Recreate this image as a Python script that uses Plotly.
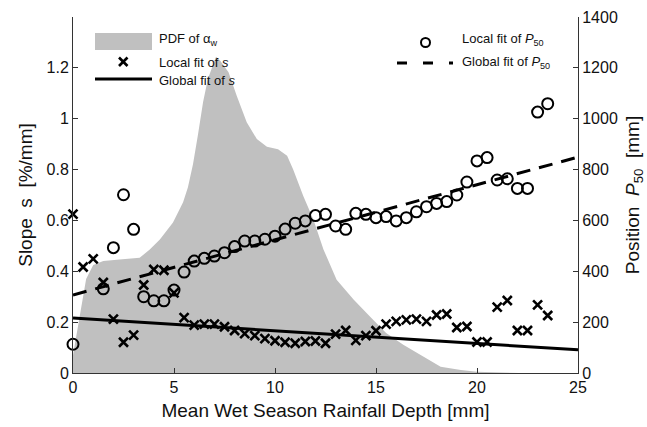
import plotly.graph_objects as go

# ---------------- data ----------------
rain_x = [0, 0.5, 1, 1.5, 2, 2.5, 3, 3.5, 4, 4.5, 5, 5.5, 6, 6.5, 7, 7.5, 8, 8.5, 9, 9.5,
          10, 10.5, 11, 11.5, 12, 12.5, 13, 13.5, 14, 14.5, 15, 15.5, 16, 16.5, 17, 17.5,
          18, 18.5, 19, 19.5, 20, 20.5, 21, 21.5, 22, 22.5, 23, 23.5]
slope_local = [0.625, 0.417, 0.449, 0.356, 0.212, 0.121, 0.149, 0.346, 0.407, 0.404, 0.315,
               0.218, 0.188, 0.192, 0.192, 0.182, 0.167, 0.155, 0.147, 0.135, 0.127, 0.121,
               0.117, 0.124, 0.126, 0.117, 0.153, 0.167, 0.128, 0.147, 0.166, 0.192, 0.203,
               0.209, 0.212, 0.203, 0.228, 0.232, 0.179, 0.183, 0.122, 0.122, 0.259, 0.285,
               0.167, 0.167, 0.268, 0.226]

p50_x = [0, 1.5, 2, 2.5, 3, 3.5, 4, 4.5, 5, 5.5, 6, 6.5, 7, 7.5, 8, 8.5, 9, 9.5, 10, 10.5,
         11, 11.5, 12, 12.5, 13, 13.5, 14, 14.5, 15, 15.5, 16, 16.5, 17, 17.5, 18, 18.5, 19,
         19.5, 20, 20.5, 21, 21.5, 22, 22.5, 23, 23.5]
p50_local = [113, 331, 493, 701, 565, 300, 284, 284, 326, 397, 440, 451, 460, 473, 497, 519,
             519, 526, 538, 566, 589, 598, 619, 624, 578, 565, 628, 624, 611, 615, 598, 611,
             634, 654, 667, 674, 700, 751, 834, 847, 759, 764, 726, 726, 1026, 1059]

fit_x = [0, 25]
slope_global = [0.216, 0.091]
p50_global = [307, 849]

pdf_x = [0, 0.35, 0.65, 1.0, 1.5, 2.3, 3.3, 3.8, 4.3, 4.95, 5.45, 5.69, 5.94, 6.19, 6.44,
         6.68, 6.88, 7.08, 7.28, 7.7, 8.1, 8.6, 9.1, 9.6, 10.15, 10.6, 10.9, 11.4, 11.9,
         12.4, 13.05, 13.9, 14.7, 15.5, 16.35, 17.2, 18.2, 19.2, 20.0, 22.1, 25]
pdf_val = [0.07, 0.24, 0.37, 0.425, 0.44, 0.446, 0.453, 0.486, 0.525, 0.592, 0.671, 0.73,
           0.821, 0.939, 1.066, 1.157, 1.204, 1.244, 1.229, 1.183, 1.091, 0.986, 0.92, 0.89,
           0.88, 0.854, 0.80, 0.696, 0.604, 0.486, 0.367, 0.288, 0.222, 0.157, 0.111, 0.071,
           0.025, 0.012, 0.005, 0.0, 0.0]

x_ticks = [0, 5, 10, 15, 20, 25]
y1_ticks = [0, 0.2, 0.4, 0.6, 0.8, 1.0, 1.2]
y1_text = ["0", "0.2", "0.4", "0.6", "0.8", "1", "1.2"]
y2_ticks = [0, 200, 400, 600, 800, 1000, 1200, 1400]

# ---------------- layout geometry ----------------
W, H = 647, 427
L, R, T, B = 73, 578, 17, 373
FONT = "Liberation Sans, Arial, Helvetica, sans-serif"
GRAY = "#c0c0c0"


def px(x):
    return (x - L) / (R - L)


def py(y):
    return (B - y) / (B - T)


fig = go.Figure()

fig.add_trace(go.Scatter(x=pdf_x, y=pdf_val, mode="lines", fill="tozeroy",
                         fillcolor=GRAY, line=dict(width=0, color=GRAY),
                         hoverinfo="skip", showlegend=False))
fig.add_trace(go.Scatter(x=fit_x, y=slope_global, mode="lines",
                         line=dict(color="black", width=3), showlegend=False))
fig.add_trace(go.Scatter(x=rain_x, y=slope_local, mode="markers", cliponaxis=False,
                         marker=dict(symbol="x-thin", size=9, color="black",
                                     line=dict(width=2.6, color="black")),
                         showlegend=False))
fig.add_trace(go.Scatter(x=fit_x, y=p50_global, mode="lines", yaxis="y2",
                         line=dict(color="black", width=3, dash="14px,9px"),
                         showlegend=False))
fig.add_trace(go.Scatter(x=p50_x, y=p50_local, mode="markers", yaxis="y2", cliponaxis=False,
                         marker=dict(symbol="circle-open", size=11, color="black",
                                     line=dict(width=2, color="black")),
                         showlegend=False))

axis_common = dict(showgrid=False, zeroline=False, showline=True, linecolor="#333333",
                   linewidth=1, ticks="inside", ticklen=5, tickcolor="#333333",
                   tickfont=dict(family=FONT, size=16, color="#111111"))

fig.update_layout(
    width=W, height=H,
    margin=dict(l=L, r=W - R, t=T, b=H - B, autoexpand=False),
    paper_bgcolor="white", plot_bgcolor="white",
    font=dict(family=FONT, color="#111111"),
    showlegend=False,
    xaxis=dict(range=[0, 25], tickvals=x_ticks, automargin=False,
               title=dict(text="Mean Wet Season Rainfall Depth [mm]",
                          font=dict(family=FONT, size=19), standoff=8),
               **axis_common),
    yaxis=dict(range=[0, 1.4], tickvals=y1_ticks, ticktext=y1_text, automargin=False,
               title=dict(text="Slope  s  [%/mm]", font=dict(family=FONT, size=19),
                          standoff=8),
               **axis_common),
    yaxis2=dict(range=[0, 1400], tickvals=y2_ticks, overlaying="y", side="right",
                automargin=False,
                title=dict(text="Position  <i>P</i><sub>50</sub>  [mm]",
                           font=dict(family=FONT, size=19), standoff=8),
                **axis_common),
)

# ---------------- legend (drawn by hand to match the reference) ----------------
shapes = []
shapes.append(dict(type="rect", xref="paper", yref="paper",
                   x0=px(95), x1=px(152), y0=py(50), y1=py(33),
                   fillcolor=GRAY, line=dict(width=0), layer="above"))
# cross glyph
for (a, b, c, d) in [(119, 57.5, 127.5, 66), (119, 66, 127.5, 57.5)]:
    shapes.append(dict(type="line", xref="paper", yref="paper",
                       x0=px(a), y0=py(b), x1=px(c), y1=py(d),
                       line=dict(color="black", width=2.6), layer="above"))
# solid line glyph
shapes.append(dict(type="line", xref="paper", yref="paper",
                   x0=px(95), x1=px(152), y0=py(79), y1=py(79),
                   line=dict(color="black", width=3), layer="above"))
# circle glyph
shapes.append(dict(type="circle", xref="paper", yref="paper",
                   x0=px(421), x1=px(430), y0=py(47), y1=py(38),
                   line=dict(color="black", width=2), layer="above"))
# dashed line glyph
shapes.append(dict(type="line", xref="paper", yref="paper",
                   x0=px(397), x1=px(453), y0=py(63), y1=py(63),
                   line=dict(color="black", width=3, dash="10px,16px"), layer="above"))
fig.update_layout(shapes=shapes)

leg_font = dict(family=FONT, size=13, color="#111111")
ann = [
    ("PDF of α<sub>w</sub>", 157, 39),
    ("Local fit of <i>s</i>", 157, 62),
    ("Global fit of <i>s</i>", 157, 80),
    ("Local fit of <i>P</i><sub>50</sub>", 460, 39),
    ("Global fit of <i>P</i><sub>50</sub>", 460, 62),
]
for text, xx, yy in ann:
    fig.add_annotation(text=text, xref="paper", yref="paper", x=px(xx), y=py(yy),
                       xanchor="left", yanchor="middle", showarrow=False, font=leg_font)

fig.write_html("out.html")
